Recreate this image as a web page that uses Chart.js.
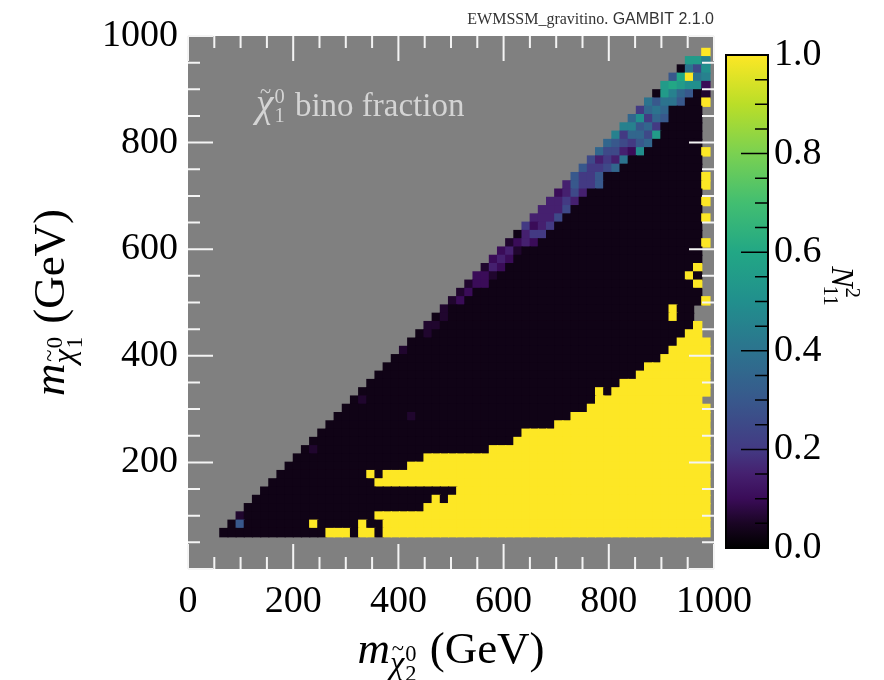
<!DOCTYPE html>
<html>
<head>
<meta charset="utf-8">
<script src="https://cdn.jsdelivr.net/npm/chart.js@4.4.1/dist/chart.umd.min.js"></script>
<style>
  html, body { margin: 0; padding: 0; background: #ffffff; }
  #wrap { position: relative; width: 884px; height: 680px; }
  #main { position: absolute; left: 0; top: 0; }
  #cbar { position: absolute; left: 700px; top: 0; }
</style>
</head>
<body>
<div id="wrap">
  <canvas id="main" width="884" height="680"></canvas>
  <canvas id="cbar" width="184" height="680"></canvas>
</div>
<script>
// ---- mass grid (GeV), same binning on both axes ----
const binStart = 60.5;
const binWidth = 15.53;

// ---- axis ticks ----
const xTickValues = [0, 200, 400, 600, 800, 1000];
const yTickValues = [200, 400, 600, 800, 1000];
const cbTickValues = [0.0, 0.2, 0.4, 0.6, 0.8, 1.0];

// ---- N11^2 levels used in the rows below ----
const levelKeys   = ['a', 'b', 'c', 'd', 'e', 'f', 'g', 'h', 'i', 'j', 'k', 'l', 'm', 'n', 'o', 'p', 'q', 'r', 's', 't', 'u'];
const levelValues = [0.03, 0.06, 0.10, 0.15, 0.20, 0.25, 0.30, 0.35, 0.40, 0.45, 0.50, 0.55, 0.60, 0.65, 0.70, 0.75, 0.80, 0.85, 0.90, 0.95, 1.00];

// ---- bino fraction per (m_chi2, m_chi1) bin ----
// One run-length string per m_chi1 bin, highest bin first; each token is a level key
// followed by a repeat count along m_chi2 (60 bins). '.' marks bins without samples.
const rowsTopDown = [
  ".59 u1",
  ".57 l2 j1",
  ".56 a1 i1 f1 k1",
  ".55 g1 m1 u1 i1 j1",
  ".54 l1 m1 l1 k2 c1",
  ".53 a1 l1 j1 h1 g1 a1 b1",
  ".52 i1 g1 i2 g1 a2 u1",
  ".51 e1 h1 i1 h1 a4 .1",
  ".50 h1 k1 e1 h1 g1 a4 .1",
  ".49 j2 g1 h1 e1 a5 .1",
  ".48 j1 e1 h2 f1 l1 a5 .1",
  ".47 h1 g1 f1 e1 g1 h1 a6 .1",
  ".46 h1 f2 d1 c1 k1 a7 u1",
  ".45 f1 d1 e1 d1 i1 a9 .1",
  ".44 g1 e2 f1 h1 a10 .1",
  ".43 g1 e2 g1 a12 u1",
  ".42 d1 g1 e2 g1 a12 u1",
  ".41 c1 d1 f1 d1 a14 .1",
  ".40 d2 e1 d1 a15 u1",
  ".39 d3 f1 a16 .1",
  ".38 d3 f1 a17 u1",
  ".37 e1 c1 d1 e1 a18 .1",
  ".36 a1 d1 e2 a19 .1",
  ".35 b1 c1 d1 c1 a20 u1",
  ".34 c1 d1 b1 a22 .1",
  ".33 c1 d1 c1 a23 .1",
  ".32 b1 d1 c1 a23 u1 .1",
  ".31 c2 b1 a23 u1 a1 .1",
  ".30 b1 c2 a25 u1 .1",
  ".29 b1 c1 a28 .1",
  ".28 b1 c1 a29 u1",
  ".27 b1 a27 u1 a2 .2",
  ".26 a1 b1 a27 u1 a2 .2",
  ".25 b2 a31 u1 .1",
  ".24 a1 b1 a31 u2 .1",
  ".23 a33 u4",
  ".22 b1 a32 u5",
  ".21 a33 u6",
  ".20 a32 u8",
  ".19 a32 u9",
  ".18 a31 u11",
  ".17 a29 u1 a1 u12",
  ".16 a1 b1 a28 u13 .1",
  ".15 a30 u15",
  ".14 a9 b1 a19 u17",
  ".13 a28 u19",
  ".12 a25 u23",
  ".11 a25 u24",
  ".10 a1 b1 a21 u27",
  ".9 a16 u35",
  ".8 a15 u37",
  ".7 a11 u1 a1 u40",
  ".6 a13 u41",
  ".5 a24 u31",
  ".4 a22 u1 a1 u32",
  ".3 a22 u35",
  ".2 b1 a16 u41",
  ".1 a1 g1 a8 u1 a5 u1 a2 u40",
  "a13 u3 a1 u2 a1 u40"
];

// ---- colour map (dark end fades to black) ----
const cmapPos = [0.00, 0.05, 0.10, 0.15, 0.20, 0.30, 0.40, 0.50, 0.60, 0.70, 0.80, 0.90, 1.00];
const cmapHex = ['#000000', '#1a0524', '#3a0c58', '#45206f', '#433a83', '#38588c', '#2c738e',
                 '#218f8d', '#22a785', '#42be71', '#7ad151', '#bade28', '#fde725'];

const SERIF = '"Liberation Serif", "DejaVu Serif", serif';
const SANS = '"Liberation Sans", "DejaVu Sans", sans-serif';
const fontSpec = (size, italic) => `${italic ? 'italic ' : ''}${size}px ${SERIF}`;

function hexToRgb(h) {
  const n = parseInt(h.slice(1), 16);
  return [(n >> 16) & 255, (n >> 8) & 255, n & 255];
}
function cmap(v) {
  v = Math.max(0, Math.min(1, v));
  for (let i = 1; i < cmapPos.length; i++) {
    if (v <= cmapPos[i]) {
      const t = (v - cmapPos[i - 1]) / (cmapPos[i] - cmapPos[i - 1]);
      const a = hexToRgb(cmapHex[i - 1]), b = hexToRgb(cmapHex[i]);
      const c = a.map((ai, k) => Math.round(ai + (b[k] - ai) * t));
      return `rgb(${c[0]},${c[1]},${c[2]})`;
    }
  }
  return cmapHex[cmapHex.length - 1];
}

function decodeRow(s) {
  const out = [];
  for (const tok of s.trim().split(/\s+/)) {
    const ch = tok[0];
    const n = parseInt(tok.slice(1), 10);
    for (let i = 0; i < n; i++) out.push(ch);
  }
  return out;
}

// Floating bars, one per filled bin
const cells = [];
const cellColors = [];
rowsTopDown.forEach((row, k) => {
  const r = rowsTopDown.length - 1 - k;
  decodeRow(row).forEach((ch, c) => {
    if (ch === '.') return;
    const v = levelValues[levelKeys.indexOf(ch)];
    const y0 = binStart + r * binWidth;
    cells.push({ x: binStart + (c + 0.5) * binWidth, y: [y0, y0 + binWidth], v: v });
    cellColors.push(cmap(v));
  });
});

// ---- text helpers ----
// m_{chi~_idx^0} (GeV), centred at (cx, base)
function drawMassTitle(ctx, idx, cx, base, size) {
  const sub = size * 0.72, tiny = size * 0.5;
  ctx.font = fontSpec(size, true);  const wm = ctx.measureText('m').width;
  ctx.font = fontSpec(sub, true);   const wchi = ctx.measureText('χ').width;
  ctx.font = fontSpec(tiny, false); const wsc = Math.max(ctx.measureText('0').width, ctx.measureText(idx).width);
  ctx.font = fontSpec(size, false); const wg = ctx.measureText(' (GeV)').width;
  const total = wm + wchi + wsc + 3 + wg;
  let x = cx - total / 2;
  ctx.textAlign = 'left';
  ctx.textBaseline = 'alphabetic';
  ctx.font = fontSpec(size, true);
  ctx.fillText('m', x, base);
  x += wm;
  const chiBase = base + size * 0.22;
  ctx.font = fontSpec(sub, true);
  ctx.fillText('χ', x, chiBase);
  ctx.font = fontSpec(tiny, false);
  ctx.textAlign = 'center';
  ctx.fillText('~', x + wchi * 0.55, chiBase - sub * 0.52);
  ctx.textAlign = 'left';
  ctx.fillText('0', x + wchi + 1, chiBase - sub * 0.36);
  ctx.fillText(idx, x + wchi + 1, chiBase + sub * 0.24);
  x += wchi + wsc + 3;
  ctx.font = fontSpec(size, false);
  ctx.fillText(' (GeV)', x, base);
}

// chi~_1^0 bino fraction, starting at (x, base)
function drawPanelLabel(ctx, x, base, size) {
  const big = size * 1.2, tiny = size * 0.62;
  ctx.textAlign = 'left';
  ctx.textBaseline = 'alphabetic';
  ctx.font = fontSpec(big, true);
  const wchi = ctx.measureText('χ').width;
  ctx.fillText('χ', x, base);
  ctx.font = fontSpec(tiny, false);
  ctx.textAlign = 'center';
  ctx.fillText('~', x + wchi * 0.55, base - size * 0.55);
  ctx.textAlign = 'left';
  ctx.fillText('0', x + wchi + 1, base - size * 0.4);
  ctx.fillText('1', x + wchi + 1, base + size * 0.18);
  const wsc = ctx.measureText('0').width;
  ctx.font = fontSpec(size, false);
  ctx.fillText(' bino fraction', x + wchi + wsc + 3, base);
}

// ---- main panel decorations: background, inward ticks, labels ----
const mainDecor = {
  id: 'mainDecor',
  beforeDatasetsDraw(chart) {
    const { ctx, chartArea: a } = chart;
    ctx.save();
    ctx.fillStyle = '#808080';
    ctx.fillRect(a.left, a.top, a.right - a.left, a.bottom - a.top);
    ctx.restore();
  },
  afterDatasetsDraw(chart) {
    const { ctx, chartArea: a, scales } = chart;
    ctx.save();
    ctx.strokeStyle = '#f4f4f4';
    ctx.lineWidth = 2;
    ctx.beginPath();
    for (let v = 0; v <= 1000; v += 50) {
      const len = v % 200 === 0 ? 25 : 12;
      const px = scales.x.getPixelForValue(v);
      const py = scales.y.getPixelForValue(v);
      ctx.moveTo(px, a.bottom); ctx.lineTo(px, a.bottom - len);
      ctx.moveTo(px, a.top);    ctx.lineTo(px, a.top + len);
      ctx.moveTo(a.left, py);   ctx.lineTo(a.left + len, py);
      ctx.moveTo(a.right, py);  ctx.lineTo(a.right - len, py);
    }
    ctx.stroke();
    ctx.restore();
  },
  afterDraw(chart) {
    const { ctx, chartArea: a } = chart;
    ctx.save();
    // panel label
    ctx.fillStyle = '#d4d4d4';
    drawPanelLabel(ctx, 256, 116, 33);
    // axis titles
    ctx.fillStyle = '#000000';
    drawMassTitle(ctx, '2', (a.left + a.right) / 2, 663, 45);
    ctx.save();
    ctx.translate(64, (a.top + a.bottom) / 2);
    ctx.rotate(-Math.PI / 2);
    drawMassTitle(ctx, '1', 0, 0, 45);
    ctx.restore();
    // header
    ctx.fillStyle = '#333333';
    ctx.textBaseline = 'alphabetic';
    ctx.textAlign = 'right';
    ctx.font = `16px ${SANS}`;
    const tail = ' GAMBIT 2.1.0';
    const wTail = ctx.measureText(tail).width;
    ctx.fillText(tail, a.right, 24);
    ctx.font = `16px ${SERIF}`;
    ctx.fillText('EWMSSM_gravitino.', a.right - wTail, 24);
    ctx.restore();
  }
};

const tickFont = { family: SERIF, size: 38 };

new Chart(document.getElementById('main'), {
  type: 'bar',
  data: {
    datasets: [{
      data: cells,
      backgroundColor: cellColors,
      borderWidth: 0,
      barPercentage: 1,
      categoryPercentage: 1,
      inflateAmount: 0.6
    }]
  },
  options: {
    responsive: false,
    animation: false,
    events: [],
    layout: { padding: { left: 0, top: 36, right: 170, bottom: 0 } },
    plugins: { legend: { display: false }, tooltip: { enabled: false } },
    scales: {
      x: {
        type: 'linear', min: 0, max: 1000, position: 'bottom', offset: false,
        grid: { display: false, drawTicks: false, offset: false },
        border: { display: false },
        afterBuildTicks: s => { s.ticks = xTickValues.map(v => ({ value: v })); },
        afterFit: s => { s.height = 111; },
        ticks: { font: tickFont, color: '#000000', padding: 10, maxRotation: 0, autoSkip: false,
                 callback: v => String(v) }
      },
      y: {
        type: 'linear', min: 0, max: 1000, position: 'left',
        grid: { display: false, drawTicks: false },
        border: { display: false },
        afterBuildTicks: s => { s.ticks = yTickValues.map(v => ({ value: v })); },
        afterFit: s => { s.width = 188; },
        ticks: { font: tickFont, color: '#000000', padding: 10, autoSkip: false,
                 callback: v => String(v) }
      }
    }
  },
  plugins: [mainDecor]
});

// ---- colour bar ----
function barGradient(chart) {
  const a = chart.chartArea;
  if (!a) return cmapHex[0];
  const g = chart.ctx.createLinearGradient(0, a.bottom, 0, a.top);
  cmapPos.forEach((p, i) => g.addColorStop(p, cmapHex[i]));
  return g;
}

const cbDecor = {
  id: 'cbDecor',
  afterDatasetsDraw(chart) {
    const { ctx, chartArea: a, scales } = chart;
    ctx.save();
    ctx.strokeStyle = '#000000';
    ctx.lineWidth = 1.5;
    ctx.beginPath();
    for (let k = 0; k <= 20; k++) {
      const v = k / 20;
      const len = k % 4 === 0 ? 27 : 13;
      const py = scales.y.getPixelForValue(v);
      ctx.moveTo(a.right, py); ctx.lineTo(a.right - len, py);
    }
    ctx.stroke();
    ctx.lineWidth = 2;
    ctx.strokeRect(a.left, a.top, a.right - a.left, a.bottom - a.top);
    // colour-bar title N_11^2, rotated to read downwards
    ctx.translate(140, 287);
    ctx.rotate(Math.PI / 2);
    ctx.fillStyle = '#000000';
    ctx.textBaseline = 'alphabetic';
    ctx.textAlign = 'left';
    ctx.font = fontSpec(32, true);
    const wN = ctx.measureText('N').width;
    ctx.font = fontSpec(21, false);
    const wS = ctx.measureText('11').width;
    const x0 = -(wN + wS) / 2;
    ctx.font = fontSpec(32, true);
    ctx.fillText('N', x0, 8);
    ctx.font = fontSpec(21, false);
    ctx.fillText('2', x0 + wN, -6);
    ctx.fillText('11', x0 + wN - 2, 16);
    ctx.restore();
  }
};

new Chart(document.getElementById('cbar'), {
  type: 'bar',
  data: {
    labels: ['N11'],
    datasets: [{
      data: [[0, 1]],
      backgroundColor: ctx => barGradient(ctx.chart),
      borderWidth: 0,
      barPercentage: 1,
      categoryPercentage: 1
    }]
  },
  options: {
    responsive: false,
    animation: false,
    events: [],
    layout: { padding: { left: 26, top: 55, right: 0, bottom: 132 } },
    plugins: { legend: { display: false }, tooltip: { enabled: false } },
    scales: {
      x: { display: false },
      y: {
        position: 'right', min: 0, max: 1,
        grid: { display: false, drawTicks: false },
        border: { display: false },
        afterBuildTicks: s => { s.ticks = cbTickValues.map(v => ({ value: v })); },
        afterFit: s => { s.width = 116; },
        ticks: { font: tickFont, color: '#000000', padding: 6, autoSkip: false,
                 callback: v => v.toFixed(1) }
      }
    }
  },
  plugins: [cbDecor]
});
</script>
</body>
</html>
